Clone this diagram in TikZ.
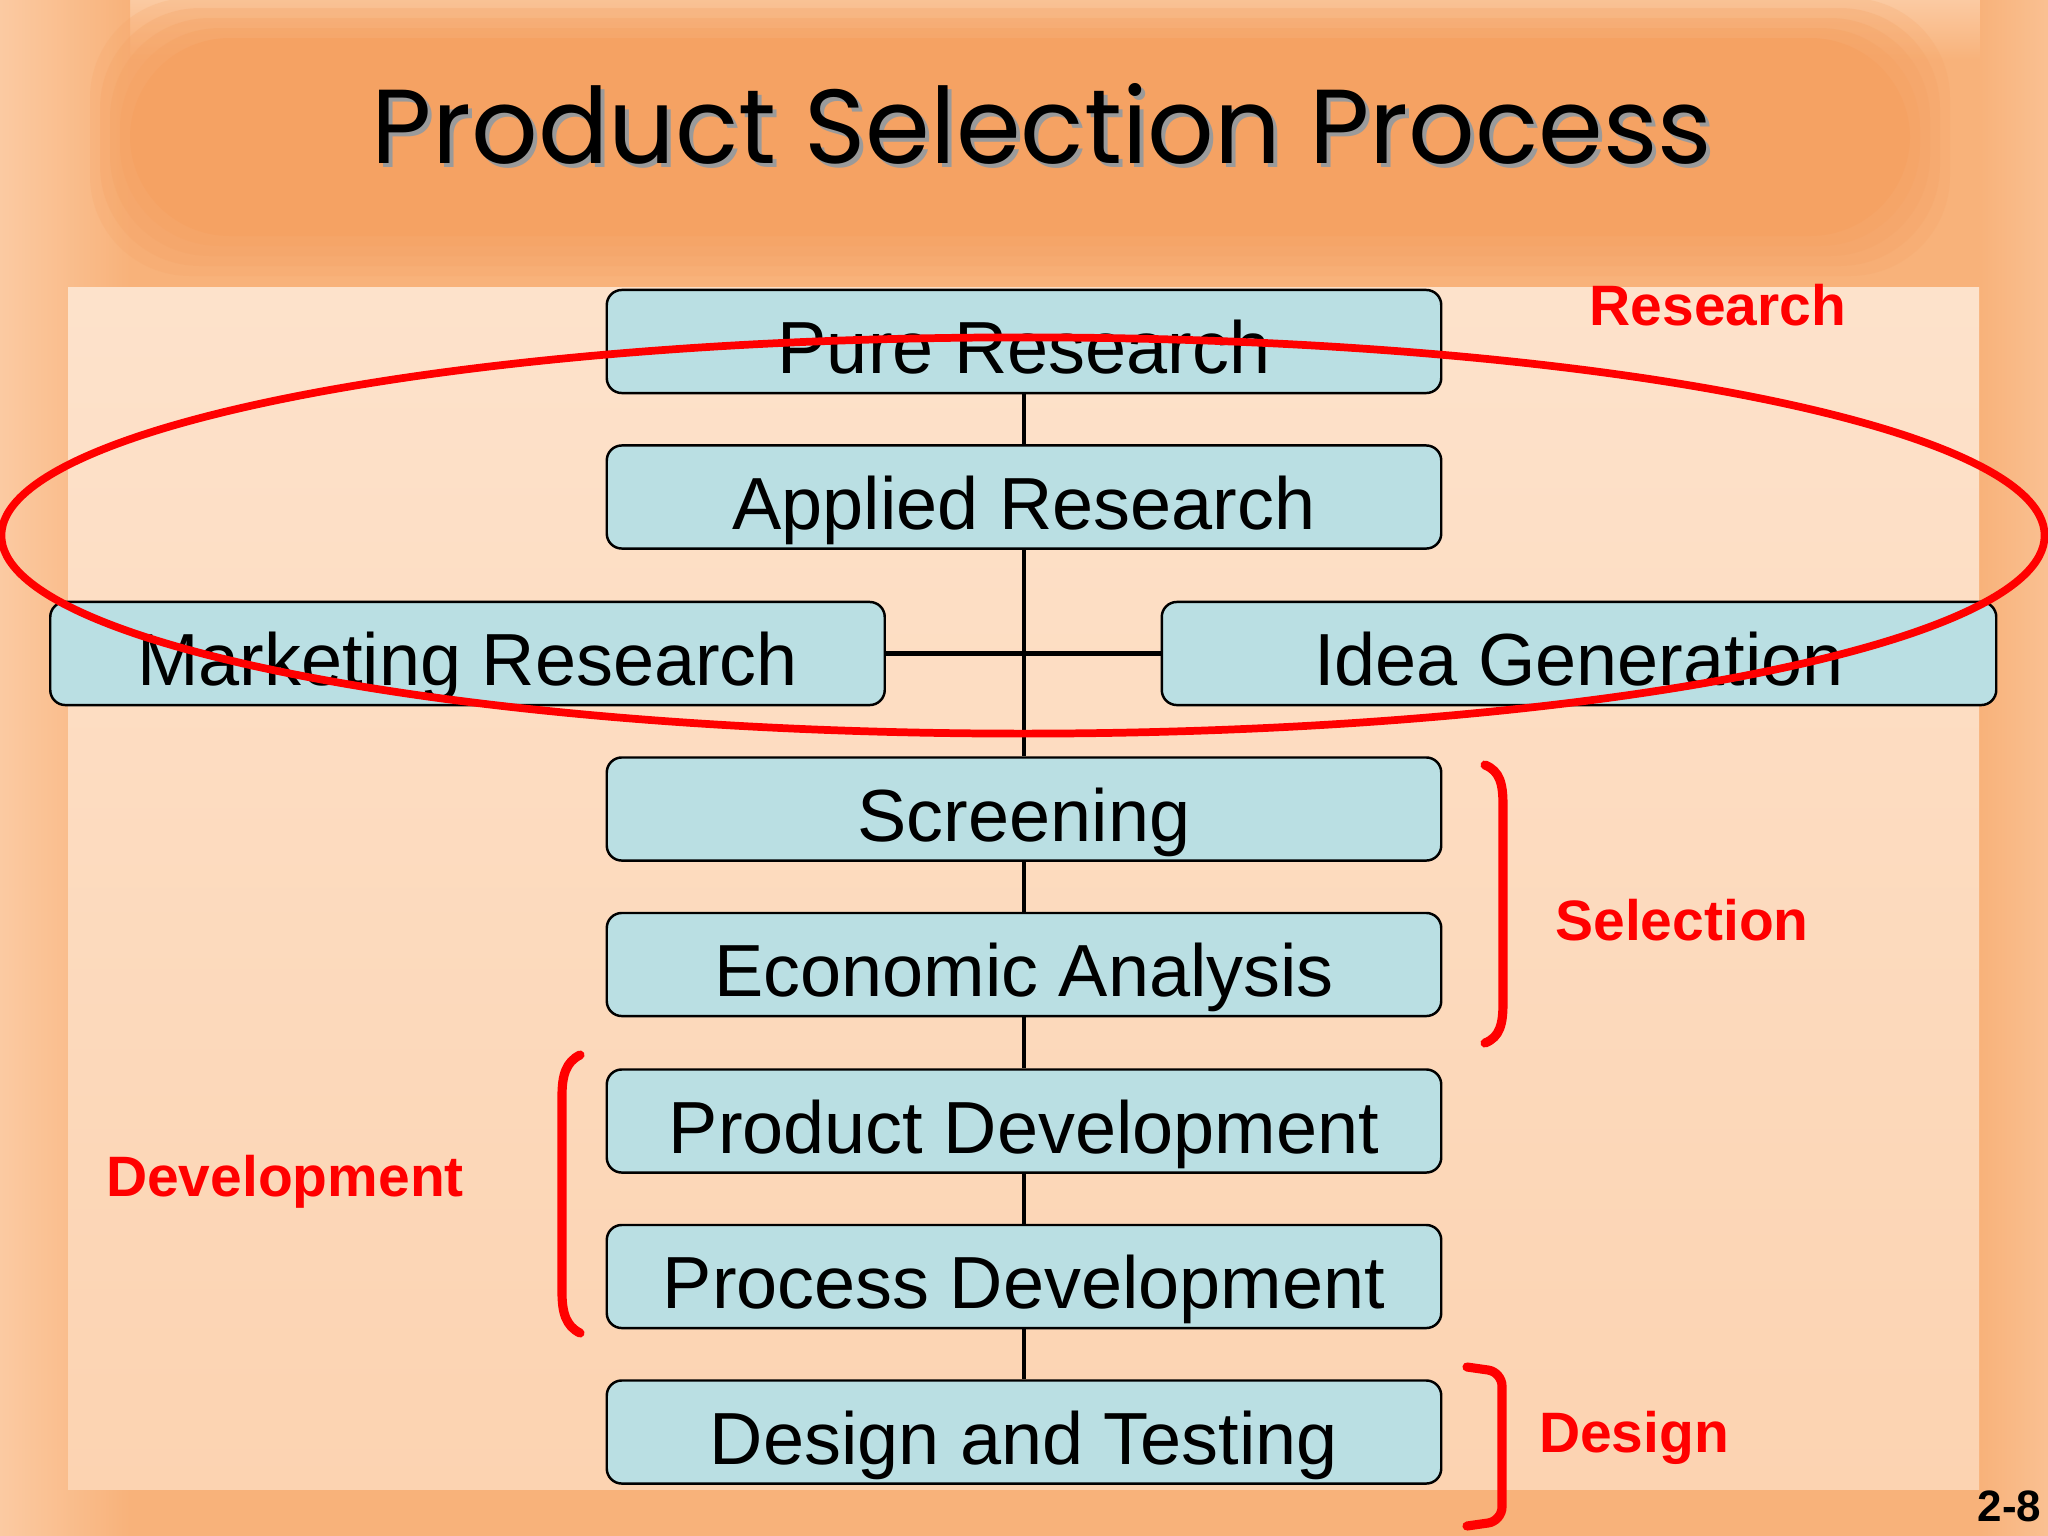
\documentclass[tikz,border=0pt]{standalone}
\usepackage{fontspec}
\setmainfont{Liberation Sans}
\newfontfamily\titlefont{Poppins}
\usetikzlibrary{positioning}
\definecolor{bgorange}{HTML}{F8B27A}
\definecolor{bandorange}{HTML}{F5A263}
\definecolor{edgelight}{HTML}{FBCAA2}
\definecolor{paneltop}{HTML}{FDE2CB}
\definecolor{panelbot}{HTML}{FCD3B1}
\definecolor{boxblue}{HTML}{BADFE3}
\definecolor{markred}{HTML}{FF0000}
\definecolor{shadowgray}{HTML}{9A9A9A}
\tikzset{
  stepbox/.style={draw=black, line width=0.7pt, fill=boxblue, rounded corners=0.15cm,
    minimum width=8.34cm, minimum height=1.03cm, inner sep=0pt,
    text height=0.74cm, text depth=0.10cm, font=\fontsize{21}{25}\selectfont},
  link/.style={draw=black, line width=1.3pt},
  phase/.style={text=markred, font=\bfseries\fontsize{16.2}{19}\selectfont, inner sep=0pt},
  bracketline/.style={draw=markred, line width=2.6pt, line cap=round},
}
\begin{document}
\begin{tikzpicture}[x=0.01cm,y=-0.01cm]
\useasboundingbox (0,0) rectangle (2048,1536);
% background
\fill[bgorange] (0,0) rectangle (2048,1536);
\shade[top color=edgelight, bottom color=bgorange] (0,0) rectangle (2048,60);
\shade[left color=edgelight, right color=bgorange] (0,0) rectangle (130,1536);
\shade[left color=bgorange, right color=edgelight!60!bgorange] (1980,0) rectangle (2048,1536);
% title band (soft edges)
\foreach \d/\o in {40/0.2,30/0.25,20/0.3,10/0.4,0/1}{
  \fill[bandorange, opacity=\o, rounded corners=1.0cm] (130-\d,38-\d) rectangle (1910+\d,236+\d);
}
% panel
\shade[top color=paneltop, bottom color=panelbot] (68,287) rectangle (1979,1489);
% title
\node[anchor=base, text=shadowgray, inner sep=0pt] at (1046,167)
  {\resizebox{13.39cm}{0.80cm}{\titlefont Product Selection Process}};
\node[anchor=base, text=black, inner sep=0pt] (title) at (1042,163)
  {\resizebox{13.39cm}{0.80cm}{\titlefont Product Selection Process}};
% boxes
\node[stepbox] (pure) at (1024,341.5) {Pure Research};
\node[stepbox] (applied) at (1024,497) {Applied Research};
\node[stepbox] (mkt) at (467.5,653.5) {Marketing Research};
\node[stepbox] (idea) at (1579,653.5) {Idea Generation};
\node[stepbox] (screen) at (1024,809) {Screening};
\node[stepbox] (econ) at (1024,964.5) {Economic Analysis};
\node[stepbox] (proddev) at (1024,1121) {Product Development};
\node[stepbox] (procdev) at (1024,1276.5) {Process Development};
\node[stepbox] (design) at (1024,1432) {Design and Testing};
% connectors
\draw[link] (pure.south) -- (applied.north);
\draw[link] (applied.south) -- (screen.north);
\draw[link] (mkt.east) -- (idea.west);
\draw[link] (screen.south) -- (econ.north);
\draw[link] (econ.south) -- (proddev.north);
\draw[link] (proddev.south) -- (procdev.north);
\draw[link] (procdev.south) -- (design.north);
% red ellipse
\draw[markred, line width=2.2pt] (1023,535.5) ellipse [x radius=10.21cm, y radius=1.98cm];
% brackets
\draw[bracketline] (1485,765) .. controls (1500,771) and (1503,784) .. (1503,805)
  -- (1503,1003) .. controls (1503,1024) and (1500,1037) .. (1485,1043);
\draw[bracketline] (580,1055) .. controls (566,1062) and (562,1075) .. (562,1096)
  -- (562,1292) .. controls (562,1313) and (566,1326) .. (580,1333);
\draw[bracketline, rounded corners=0.14cm] (1467,1367) -- (1502,1372) -- (1502,1521) -- (1467,1526);
% phase labels
\node[phase, anchor=base] (lres) at (1718,325) {Research};
\node[phase, anchor=base] (lsel) at (1682,940) {Selection};
\node[phase, anchor=base] (ldev) at (285,1196) {Development};
\node[phase, anchor=base] (ldes) at (1634,1452) {Design};
% page number
\node[anchor=base east, inner sep=0pt, font=\bfseries\fontsize{12.5}{15}\selectfont] (pg) at (2042,1521) {2-8};
\end{tikzpicture}
\end{document}
